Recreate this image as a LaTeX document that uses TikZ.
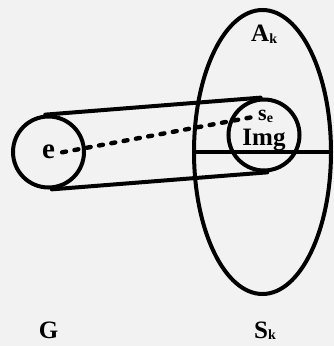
\documentclass[tikz,border=0pt]{standalone}
\usepackage{fontspec}
\setmainfont{Liberation Serif}
\usetikzlibrary{shapes.geometric,positioning,calc}
\definecolor{figInk}{RGB}{0,0,0}
\definecolor{figPaper}{RGB}{242,242,242}
\newcommand{\lowsub}[1]{{\fontsize{14}{14}\selectfont\raisebox{-1.5pt}{#1}}}
\begin{document}
\begin{tikzpicture}[x=1pt,y=1pt]
\tikzset{
ring/.style={circle,draw=figInk,line width=4pt,inner sep=0pt,minimum size=71pt},
oval/.style={ellipse,draw=figInk,line width=4pt,inner sep=0pt,minimum width=137pt,minimum height=284pt},
rim/.style={draw=figInk,line width=4pt,line cap=round},
dotline/.style={draw=figInk,line width=4.4pt,line cap=round,dash pattern=on 4pt off 8.5pt},
lab/.style={font=\bfseries\fontsize{25}{28}\selectfont,text=figInk,inner sep=0pt,anchor=base}
}
\useasboundingbox (0,0) rectangle (334,346);
\fill[figPaper] (0,0) rectangle (334,346);

\node[oval] (sk) at (262.5,194) {};
\node[ring] (ce) at (48.5,194) {};
\node[ring] (ci) at (264,211) {};

\draw[rim] (ce.95) -- (ci.95);
\draw[rim] (ce.-85) -- (ci.-85);
\draw[rim,line cap=butt] (sk.west) -- (sk.east);

\node[lab,font=\bfseries\fontsize{29}{30}\selectfont,inner xsep=7pt] (lbe) at (48.5,187) {e};
\node[lab] (lbimg) at (264,200) {Img};
\node[lab,anchor=base west,font=\bfseries\fontsize{22}{24}\selectfont,inner xsep=3pt] (lbse) at (255,225) {s\lowsub{e}};
\node[lab,anchor=base west] (lbak) at (251,304) {A\lowsub{k}};
\node[lab] (lbg) at (48.5,8) {G};
\node[lab,anchor=base west] (lbsk) at (254,8) {S\lowsub{k}};

\draw[dotline] (lbe.east) -- (lbse.west);
\end{tikzpicture}
\end{document}
